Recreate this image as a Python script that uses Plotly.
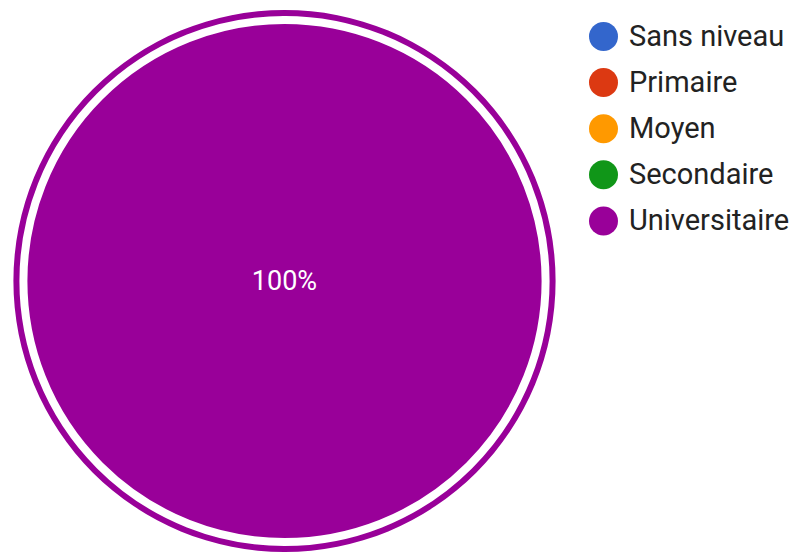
import plotly.graph_objects as go

# Education level breakdown (percent of respondents)
categories = ["Sans niveau", "Primaire", "Moyen", "Secondaire", "Universitaire"]
values = [0, 0, 0, 0, 100]
colors = ["#3366cc", "#dc3912", "#ff9900", "#109618", "#990099"]

W, H = 805, 552

# pie geometry in pixels
CX, CY = 284.5, 281
R_OUTER = 271      # outer coloured ring
R_PIE = 261        # main disc (white stroke sits on its edge)
STROKE = 8

# legend layout in pixels
LEG_MARKER_X = 603.5
LEG_TEXT_X = 629
LEG_TOP = 36.5
LEG_STEP = 46.1
LEG_TEXT_DY = 2


def clamp(v):
    return min(1.0, max(0.0, v))


def dom(cx, cy, r):
    return dict(x=[clamp((cx - r) / W), clamp((cx + r) / W)],
                y=[clamp((H - cy - r) / H), clamp((H - cy + r) / H)])


fig = go.Figure()

# background disc forming the thin outer ring
fig.add_trace(go.Pie(
    labels=categories, values=values, sort=False, direction="clockwise",
    marker=dict(colors=colors), textinfo="none", hoverinfo="skip",
    showlegend=False, domain=dom(CX, CY, R_OUTER),
))

# main pie with white border
fig.add_trace(go.Pie(
    labels=categories, values=values, sort=False, direction="clockwise",
    marker=dict(colors=colors, line=dict(color="white", width=STROKE)),
    textinfo="percent", textposition="inside",
    insidetextorientation="horizontal",
    textfont=dict(family="Roboto", size=27, color="white"),
    showlegend=False, domain=dom(CX, CY, R_PIE),
))

# legend: round swatches with labels
ys = [LEG_TOP + i * LEG_STEP for i in range(len(categories))]
fig.add_trace(go.Scatter(
    x=[LEG_MARKER_X] * len(categories), y=ys, mode="markers",
    marker=dict(size=29, color=colors, line=dict(width=0)),
    hoverinfo="skip", showlegend=False, xaxis="x", yaxis="y",
))
fig.add_trace(go.Scatter(
    x=[LEG_TEXT_X] * len(categories), y=[v + LEG_TEXT_DY for v in ys],
    mode="text", text=categories, textposition="middle right",
    textfont=dict(family="Roboto", size=29, color="#222222"),
    hoverinfo="skip", showlegend=False, xaxis="x", yaxis="y",
))

fig.update_layout(
    width=W, height=H,
    margin=dict(l=0, r=0, t=0, b=0),
    paper_bgcolor="white", plot_bgcolor="rgba(0,0,0,0)",
    showlegend=False,
    xaxis=dict(range=[0, W], domain=[0, 1], visible=False, fixedrange=True),
    yaxis=dict(range=[H, 0], domain=[0, 1], visible=False, fixedrange=True),
)

fig.write_html("out.html")
